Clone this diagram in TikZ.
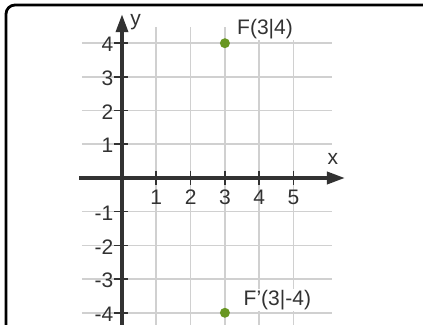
\documentclass[tikz,border=0pt]{standalone}
\usepackage{fontspec}
\setmainfont{Liberation Sans}
\usetikzlibrary{arrows.meta}
\definecolor{gridgray}{RGB}{208,208,208}
\definecolor{axisgray}{RGB}{50,50,50}
\definecolor{ptgreen}{RGB}{104,150,34}

\begin{document}
\begin{tikzpicture}[x=34.3pt,y=33.7pt,
  gridline/.style={gridgray,line width=1.6pt},
  axisline/.style={axisgray,line width=3.6pt,-{Triangle[length=18pt,width=12pt]}},
  tickline/.style={axisgray,line width=1.6pt},
  ylab/.style={anchor=east,inner sep=1pt,text=axisgray,font=\fontsize{21}{21}\selectfont},
  xlab/.style={inner sep=1pt,text=axisgray,font=\fontsize{21}{21}\selectfont},
  pt/.style={circle,fill=ptgreen,inner sep=0pt,minimum size=10pt},
  ptlab/.style={fill=white,inner sep=1pt,text=axisgray,font=\fontsize{21}{21}\selectfont}]
\useasboundingbox (-3.557,-4.362) rectangle (8.776,5.282);
\clip (-3.557,-4.362) rectangle (8.776,5.282);
%frame
\draw[line width=2.8pt,rounded corners=9pt] (-3.382,-6) rectangle (10,5.134);
%grid
\draw[gridline] (-1.17,4)--(6.12,4);
\draw[gridline] (-1.17,3)--(6.12,3);
\draw[gridline] (-1.17,2)--(6.12,2);
\draw[gridline] (-1.17,1)--(6.12,1);
\draw[gridline] (-1.17,-1)--(6.12,-1);
\draw[gridline] (-1.17,-2)--(6.12,-2);
\draw[gridline] (-1.17,-3)--(6.12,-3);
\draw[gridline] (-1.17,-4)--(6.12,-4);
\draw[gridline] (1,4.48)--(1,-4.6);
\draw[gridline] (2,4.48)--(2,-4.6);
\draw[gridline] (3,4.48)--(3,-4.6);
\draw[gridline] (4,4.48)--(4,-4.6);
\draw[gridline] (5,4.48)--(5,-4.6);
%axes
\coordinate (xs) at (-1.25,0);
\coordinate (xe) at (6.5,0);
\coordinate (ys) at (0,-4.6);
\coordinate (ye) at (0,4.86);
\draw[axisline] (xs)--(xe);
\draw[axisline] (ys)--(ye);
\node[xlab] (xname) at (6.15,0.56) {x};
\node[xlab] (yname) at (0.4,4.62) {y};
%ticks
\draw[tickline] (1,0.22)--(1,-0.22);
\draw[tickline] (2,0.22)--(2,-0.22);
\draw[tickline] (3,0.22)--(3,-0.22);
\draw[tickline] (4,0.22)--(4,-0.22);
\draw[tickline] (5,0.22)--(5,-0.22);
\draw[tickline] (-0.22,4)--(0.18,4);
\draw[tickline] (-0.22,3)--(0.18,3);
\draw[tickline] (-0.22,2)--(0.18,2);
\draw[tickline] (-0.22,1)--(0.18,1);
\draw[tickline] (-0.22,-1)--(0.18,-1);
\draw[tickline] (-0.22,-2)--(0.18,-2);
\draw[tickline] (-0.22,-3)--(0.18,-3);
\draw[tickline] (-0.22,-4)--(0.18,-4);
%tick labels
\node[xlab] (x1) at (1,-0.57) {1};
\node[xlab] (x2) at (2,-0.57) {2};
\node[xlab] (x3) at (3,-0.57) {3};
\node[xlab] (x4) at (4,-0.57) {4};
\node[xlab] (x5) at (5,-0.57) {5};
\node[ylab] (y4) at (-0.22,3.96) {4};
\node[ylab] (y3) at (-0.22,2.96) {3};
\node[ylab] (y2) at (-0.22,1.96) {2};
\node[ylab] (y1) at (-0.22,0.96) {1};
\node[ylab] (ym1) at (-0.22,-1.04) {-1};
\node[ylab] (ym2) at (-0.22,-2.04) {-2};
\node[ylab] (ym3) at (-0.22,-3.04) {-3};
\node[ylab] (ym4) at (-0.22,-4.04) {-4};
%points
\node[ptlab] (Flab) at (4.17,4.41) {F(3|4)};
\node[ptlab] (Fslab) at (4.53,-3.62) {F'(3|-4)};
\node[pt] (F) at (3,4) {};
\node[pt] (Fs) at (3,-4) {};
\end{tikzpicture}
\end{document}
